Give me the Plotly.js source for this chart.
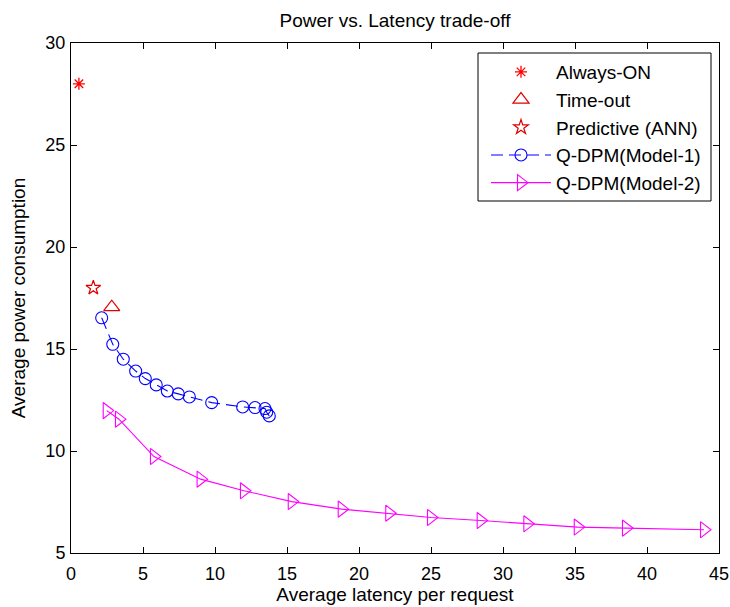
<!DOCTYPE html>
<html>
<head>
<meta charset="utf-8">
<script src="https://cdn.plot.ly/plotly-3.0.1.min.js"></script>
<style>html,body{margin:0;padding:0;background:#fff;}#chart{width:730px;height:607px;}</style>
</head>
<body>
<div id="chart"></div>
<script>
// Single-point baselines
const alwaysOnX = [0.55];
const alwaysOnY = [28.0];
const timeoutX = [2.83];
const timeoutY = [17.05];
const predictiveX = [1.55];
const predictiveY = [18.0];

// Q-DPM (Model-1)
const model1X = [2.13, 2.90, 3.63, 4.49, 5.16, 5.92, 6.69, 7.45, 8.22, 9.77, 11.92, 12.78, 13.47, 13.59, 13.77];
const model1Y = [16.53, 15.23, 14.50, 13.92, 13.55, 13.24, 12.94, 12.80, 12.65, 12.37, 12.16, 12.13, 12.08, 11.90, 11.72];

// Q-DPM (Model-2)
const model2X = [2.48, 3.33, 5.76, 9.00, 12.01, 15.33, 18.80, 22.10, 25.00, 28.45, 31.69, 35.19, 38.54, 43.96];
const model2Y = [11.98, 11.56, 9.73, 8.62, 8.05, 7.52, 7.15, 6.95, 6.74, 6.59, 6.43, 6.27, 6.22, 6.14];

const xTicks = [0, 5, 10, 15, 20, 25, 30, 35, 40, 45];
const yTicks = [5, 10, 15, 20, 25, 30];

const FONT = 'Liberation Sans, Arial, sans-serif';

const traces = [
  {x: alwaysOnX, y: alwaysOnY, name: 'Always-ON', mode: 'markers', type: 'scatter',
   marker: {symbol: 'asterisk-open', size: 10, color: '#ff0000', line: {color: '#ff0000', width: 1.3}}},
  {x: timeoutX, y: timeoutY, name: 'Time-out', mode: 'markers', type: 'scatter',
   marker: {symbol: 'triangle-up-open', size: 14, color: '#e00000', line: {color: '#e00000', width: 1.2}}},
  {x: predictiveX, y: predictiveY, name: 'Predictive (ANN)', mode: 'markers', type: 'scatter',
   marker: {symbol: 'star-open', size: 11, color: '#e00000', line: {color: '#e00000', width: 1.2}}},
  {x: model1X, y: model1Y, name: 'Q-DPM(Model-1)', mode: 'lines+markers', type: 'scatter',
   line: {color: '#0000ff', width: 1.1, dash: '12px,6px'},
   marker: {symbol: 'circle-open', size: 12, color: '#0000ff', line: {color: '#0000ff', width: 1.1}}},
  {x: model2X, y: model2Y, name: 'Q-DPM(Model-2)', mode: 'lines+markers', type: 'scatter',
   line: {color: '#ff00ff', width: 1.1},
   marker: {symbol: 'triangle-right-open', size: 14, color: '#ff00ff', line: {color: '#ff00ff', width: 1.1}}}
];

const W = 730, H = 607, L = 71, R = 11, T = 43, B = 54;
const pw = W - L - R, ph = H - T - B;
function px2x(p) { return (p - L) / pw; }
function px2y(p) { return (H - B - p) / ph; }

const axisCommon = {
  showgrid: false, zeroline: false, showline: true, linecolor: '#000', linewidth: 1,
  mirror: 'ticks', ticks: 'inside', ticklen: 6, tickwidth: 1, tickcolor: '#000',
  tickfont: {family: FONT, size: 18, color: '#000'}
};

const layout = {
  width: W, height: H,
  paper_bgcolor: '#fff', plot_bgcolor: '#fff',
  margin: {l: L, r: R, t: T, b: B},
  title: {text: 'Power vs. Latency trade-off', font: {family: FONT, size: 19, color: '#000'},
          x: 0.5 * (L + W - R) / W, xanchor: 'center', y: 1 - 20 / H, yanchor: 'middle', yref: 'container'},
  xaxis: Object.assign({}, axisCommon, {range: [0, 45], tickvals: xTicks, ticktext: xTicks.map(String),
    ticklabelstandoff: 4,
    title: {text: 'Average latency per request', font: {family: FONT, size: 19, color: '#000'}, standoff: 3}}),
  yaxis: Object.assign({}, axisCommon, {range: [5, 30], tickvals: yTicks, ticktext: yTicks.map(String),
    ticklabelstandoff: 1,
    title: {text: 'Average power consumption', font: {family: FONT, size: 19, color: '#000'}, standoff: 14}}),
  showlegend: true,
  legend: {x: px2x(486), y: px2y(53), xanchor: 'left', yanchor: 'top',
    bgcolor: 'rgba(0,0,0,0)', borderwidth: 0,
    font: {family: FONT, size: 19, color: '#000'}, itemwidth: 60, tracegroupgap: 0},
  shapes: [{type: 'rect', xref: 'paper', yref: 'paper', layer: 'below',
    x0: px2x(478), x1: px2x(711), y0: px2y(201), y1: px2y(53),
    line: {color: '#000', width: 1}, fillcolor: '#fff'}]
};

Plotly.newPlot('chart', traces, layout, {displayModeBar: false, staticPlot: true});
</script>
</body>
</html>
